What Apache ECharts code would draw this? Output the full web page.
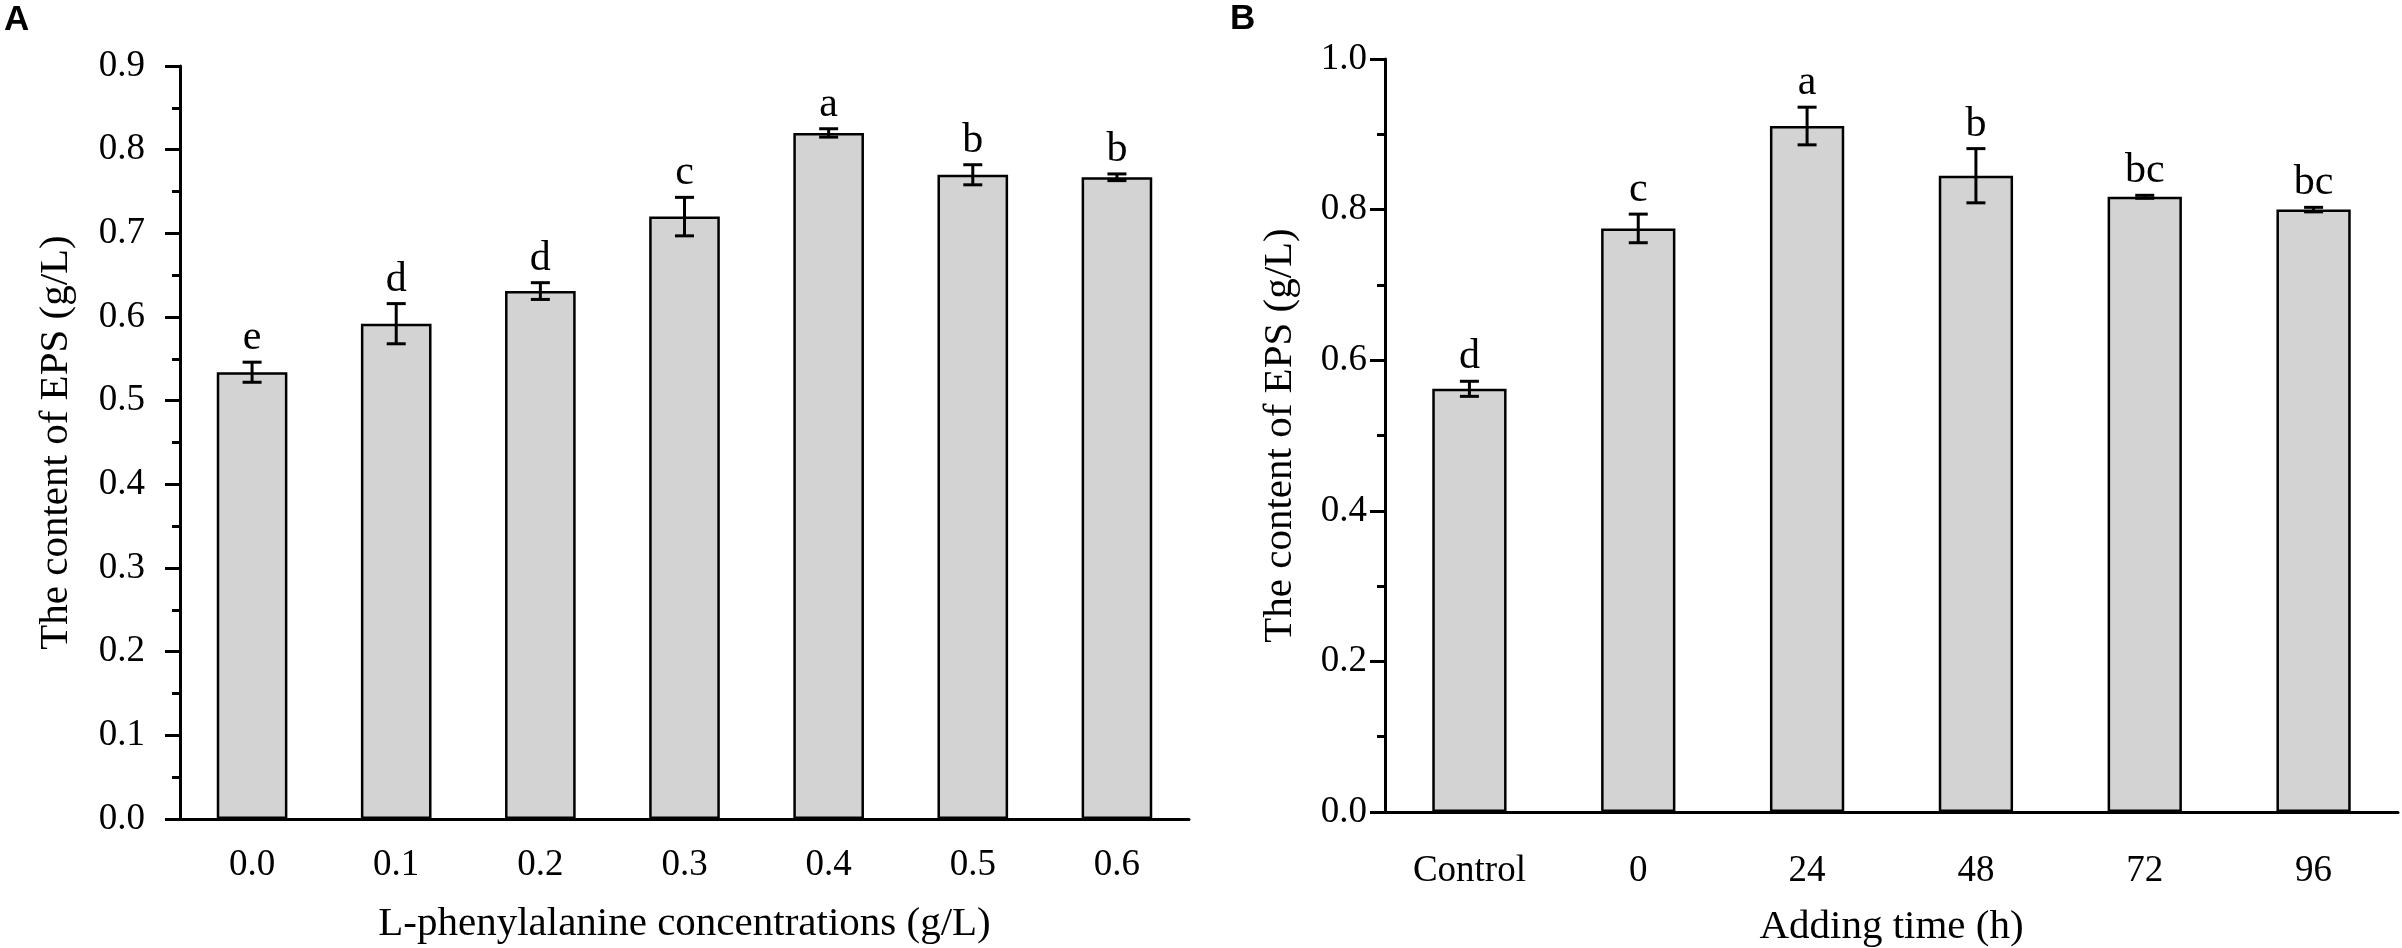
<!DOCTYPE html>
<html>
<head>
<meta charset="utf-8">
<script src="https://cdn.jsdelivr.net/npm/echarts@6/dist/echarts.min.js"></script>
<style>
  html, body { margin: 0; padding: 0; background: #fff; }
  #chart { width: 2402px; height: 948px; }
</style>
</head>
<body>
<div id="chart"></div>
<script>
// panel A: L-phenylalanine concentrations
var catsA = ['0.0', '0.1', '0.2', '0.3', '0.4', '0.5', '0.6'];
var valsA = [0.534, 0.592, 0.631, 0.720, 0.820, 0.770, 0.767];
var errsA = [0.012, 0.024, 0.010, 0.023, 0.005, 0.012, 0.004];
var lettersA = ['e', 'd', 'd', 'c', 'a', 'b', 'b'];

// panel B: adding time
var catsB = ['Control', '0', '24', '48', '72', '96'];
var valsB = [0.562, 0.775, 0.911, 0.845, 0.817, 0.800];
var errsB = [0.010, 0.019, 0.025, 0.036, 0.002, 0.003];
var lettersB = ['d', 'c', 'a', 'b', 'bc', 'bc'];

var FONT = 'Liberation Serif';

function errorBars(letters) {
  return function (params, api) {
    var i = api.value(0), v = api.value(1), e = api.value(2);
    var top = api.coord([i, v + e]);
    var bot = api.coord([i, v - e]);
    var hw = 9.5;
    var st = { stroke: '#000', lineWidth: 3 };
    return {
      type: 'group',
      children: [
        { type: 'line', shape: { x1: top[0], y1: top[1], x2: bot[0], y2: bot[1] }, style: st },
        { type: 'line', shape: { x1: top[0] - hw, y1: top[1], x2: top[0] + hw, y2: top[1] }, style: st },
        { type: 'line', shape: { x1: bot[0] - hw, y1: bot[1], x2: bot[0] + hw, y2: bot[1] }, style: st },
        {
          type: 'text', x: top[0], y: top[1] - 3,
          style: {
            text: letters[i], fill: '#000', fontSize: 42, fontFamily: FONT,
            align: 'center', verticalAlign: 'bottom'
          }
        }
      ]
    };
  };
}

function xAxes(cats, grid, margin, name, gap) {
  return [
    {
      type: 'category', data: cats, gridIndex: grid, position: 'bottom',
      axisLine: { lineStyle: { color: '#000', width: 3 } },
      axisTick: { length: 8, lineStyle: { color: '#000', width: 3 } },
      axisLabel: { color: '#000', fontSize: 37, fontFamily: FONT, margin: margin },
      name: name, nameLocation: 'middle', nameGap: gap,
      nameTextStyle: { color: '#000', fontSize: 41, fontFamily: FONT }
    },
    {
      type: 'category', data: cats, gridIndex: grid, position: 'bottom',
      axisLine: { show: false },
      axisTick: { alignWithLabel: true, length: 15, lineStyle: { color: '#000', width: 3 } },
      axisLabel: { show: false }
    }
  ];
}

function yAxis(grid, max, interval, margin, gap) {
  return {
    type: 'value', gridIndex: grid, min: 0, max: max, interval: interval,
    splitLine: { show: false },
    axisLine: { show: true, lineStyle: { color: '#000', width: 3 } },
    axisTick: { show: true, length: 15, lineStyle: { color: '#000', width: 3 } },
    minorTick: { show: true, splitNumber: 2, length: 8, lineStyle: { color: '#000', width: 3 } },
    axisLabel: {
      color: '#000', fontSize: 37, fontFamily: FONT, margin: margin,
      formatter: function (v) { return v.toFixed(1); }
    },
    name: 'The content of EPS (g/L)', nameLocation: 'middle', nameGap: gap, nameRotate: 90,
    nameTextStyle: { color: '#000', fontSize: 41, fontFamily: FONT }
  };
}

var chart = echarts.init(document.getElementById('chart'));
var barStyle = { color: '#d3d3d3', borderColor: '#000', borderWidth: 2.5 };

chart.setOption({
  animation: false,
  backgroundColor: '#fff',
  grid: [
    { left: 180, right: 1213, top: 66, bottom: 129, outerBoundsMode: 'none' },
    { left: 1385, right: 4, top: 59, bottom: 136, outerBoundsMode: 'none' }
  ],
  xAxis: xAxes(catsA, 0, 28, 'L-phenylalanine concentrations (g/L)', 85)
    .concat(xAxes(catsB, 1, 41, 'Adding time (h)', 95)),
  yAxis: [yAxis(0, 0.9, 0.1, 35, 103), yAxis(1, 1.0, 0.2, 18, 84)],
  graphic: [
    { type: 'text', left: 4, top: 3, style: { text: 'A', fill: '#000', fontSize: 35, fontWeight: 'bold', fontFamily: 'Liberation Sans' } },
    { type: 'text', left: 1230, top: 2, style: { text: 'B', fill: '#000', fontSize: 35, fontWeight: 'bold', fontFamily: 'Liberation Sans' } }
  ],
  series: [
    { type: 'bar', xAxisIndex: 0, yAxisIndex: 0, data: valsA, barWidth: '49%', itemStyle: barStyle },
    {
      type: 'custom', xAxisIndex: 0, yAxisIndex: 0, z: 5,
      data: valsA.map(function (v, i) { return [i, v, errsA[i]]; }),
      renderItem: errorBars(lettersA)
    },
    { type: 'bar', xAxisIndex: 2, yAxisIndex: 1, data: valsB, barWidth: '44%', itemStyle: barStyle },
    {
      type: 'custom', xAxisIndex: 2, yAxisIndex: 1, z: 5,
      data: valsB.map(function (v, i) { return [i, v, errsB[i]]; }),
      renderItem: errorBars(lettersB)
    }
  ]
});
</script>
</body>
</html>
